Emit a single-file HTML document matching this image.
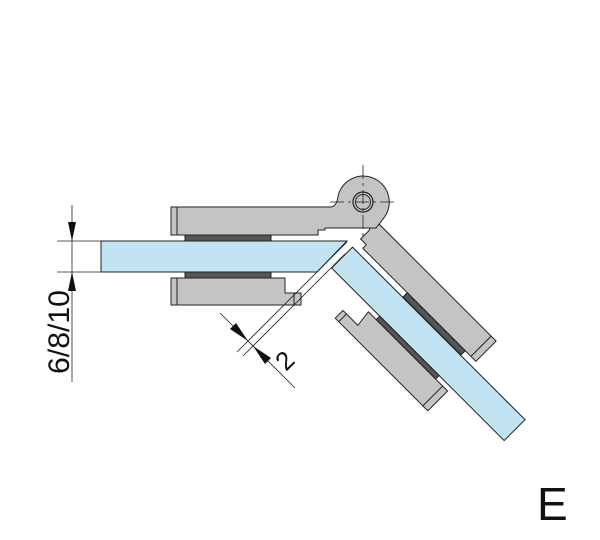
<!DOCTYPE html>
<html><head><style>html,body{margin:0;padding:0;background:#fff}svg{display:block}</style></head>
<body>
<svg width="600" height="540" viewBox="0 0 600 540" xmlns="http://www.w3.org/2000/svg" font-family="Liberation Sans, sans-serif">
<g stroke="#222" stroke-width="1">
<!-- rotated parts -->
<g transform="rotate(45)">
<!-- upper right clamp -->
<path d="M418,-109.6 L592,-109.6 L592,-81 L432,-81 L432,-86 L424,-86 L424,-98 Z" fill="#c4c4c4"/>
<line x1="585" y1="-109.6" x2="585" y2="-81"/>
<rect x="495" y="-81" width="82" height="6" fill="#555"/>
<!-- glass -->
<rect x="424" y="-74.5" width="244" height="29.5" fill="#c2e4f2"/>
<!-- lower right clamp -->
<rect x="492" y="-45" width="84" height="5" fill="#555"/>
<path d="M462,-12 L593,-12 L593,-40 L481,-40 L483,-23 L462,-23 Z" fill="#c4c4c4"/>
<line x1="586" y1="-40" x2="586" y2="-12"/>
<line x1="467" y1="-23" x2="467" y2="-12"/>
</g>
<!-- hinge + upper left clamp -->
<path d="M171,207 L331,207 Q337,206 338,196 A26,26 0 1,1 383,219 L376,228 L325,228 L325,230 L318,230 L318,235 L171,235 Z" fill="#c4c4c4"/>
<line x1="177" y1="207" x2="177" y2="235"/>
<circle cx="363" cy="202" r="10" fill="#c4c4c4" stroke-width="1.2"/>
<circle cx="363" cy="202" r="7.5" fill="#c4c4c4"/>
<!-- gaskets left -->
<rect x="185" y="235" width="86" height="6" fill="#555"/>
<rect x="185" y="272" width="86" height="6" fill="#555"/>
<!-- left glass -->
<polygon points="101,241 347,241 317,272 101,272" fill="#c2e4f2"/>
<!-- lower left clamp -->
<path d="M171,278 L285,278 L285,293 L301,293 L301,305 L171,305 Z" fill="#c4c4c4"/>
<line x1="177" y1="278" x2="177" y2="305"/>
<line x1="294" y1="293" x2="294" y2="305"/>
<!-- crosshairs -->
<line x1="330" y1="202" x2="396" y2="202" stroke-dasharray="14,4,3,4" stroke-width="0.8"/>
<line x1="363" y1="165" x2="363" y2="240" stroke-dasharray="14,4,3,4" stroke-width="0.8"/>
<!-- dimension 6/8/10 -->
<line x1="57" y1="241" x2="101" y2="241" stroke-width="0.8"/>
<line x1="57" y1="272" x2="101" y2="272" stroke-width="0.8"/>
<line x1="72" y1="205" x2="72" y2="382" stroke-width="0.8"/>
</g>
<polygon points="72,241 68,222 76,222" fill="#111"/>
<polygon points="72,272 68,291 76,291" fill="#111"/>
<text transform="translate(69,374) rotate(-90)" font-size="30" textLength="84" lengthAdjust="spacingAndGlyphs" fill="#111">6/8/10</text>
<!-- dimension 2 -->
<g stroke="#222" stroke-width="0.8">
<line x1="237" y1="352" x2="347" y2="242"/>
<line x1="243" y1="356" x2="345" y2="254"/>
<line x1="220" y1="313" x2="295" y2="388"/>
</g>
<polygon points="248,341 230,329 236,323" fill="#111"/>
<polygon points="253,346 271,358 265,364" fill="#111"/>
<text transform="translate(286,372) rotate(-45)" font-size="26" fill="#111">2</text>
<text x="537" y="520" font-size="46" fill="#111">E</text>
</svg>
</body></html>
